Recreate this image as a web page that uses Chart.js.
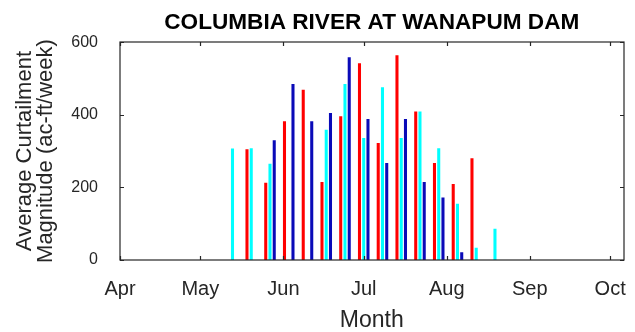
<!DOCTYPE html>
<html>
<head>
<meta charset="utf-8">
<title>Columbia River at Wanapum Dam</title>
<script src="https://cdn.jsdelivr.net/npm/chart.js@4.4.0/dist/chart.umd.min.js"></script>
<style>
  html, body { margin: 0; padding: 0; background: #fff; }
  canvas { display: block; }
</style>
</head>
<body>
<canvas id="curtailChart" width="635" height="332"></canvas>
<script>
// week start dates (MM-DD) for the curtailment season
const weekStarts = ['05-13', '05-20', '05-27', '06-03', '06-10', '06-17', '06-24', '07-01',
                    '07-08', '07-15', '07-22', '07-29', '08-05', '08-12', '08-19'];

// average curtailment per week (ac-ft/week)
const redValues  = [0, 305, 213, 382, 469, 215, 396, 542, 322, 564, 409, 267, 209, 280, 0];
const cyanValues = [307, 308, 265, 0, 0, 359, 485, 336, 476, 336, 409, 308, 155, 34, 86];
const blueValues = [0, 0, 330, 485, 382, 405, 558, 388, 267, 388, 215, 172, 21, 0, 0];

// month ticks, as days after April 1
const monthDays   = [0, 30, 61, 91, 122, 153, 183];
const monthLabels = ['Apr', 'May', 'Jun', 'Jul', 'Aug', 'Sep', 'Oct'];
const yTicks = [0, 200, 400, 600];

function dayOfSeason(md) {
    const [m, d] = md.split('-').map(Number);
    return (Date.UTC(2001, m - 1, d) - Date.UTC(2001, 3, 1)) / 86400000;
}

const weekDays = weekStarts.map(dayOfSeason);
const toPoints = vals => vals.map((v, i) => ({ x: weekDays[i], y: v }));

const fontFamily = "'Liberation Sans', Arial, Helvetica, sans-serif";
const axisColor = '#262626';

// box around the plot with MATLAB-style inward ticks
const frame = {
    id: 'frame',
    afterDatasetsDraw(chart) {
        const { ctx, chartArea: a, scales: { x, y } } = chart;
        const L = Math.round(a.left), R = Math.round(a.right);
        const T = Math.round(a.top), B = Math.round(a.bottom);
        ctx.save();
        ctx.strokeStyle = axisColor;
        ctx.lineWidth = 1.2;
        ctx.strokeRect(L, T, R - L, B - T);
        ctx.beginPath();
        x.ticks.forEach(t => {
            const px = Math.round(x.getPixelForValue(t.value)) + 0.5;
            ctx.moveTo(px, B); ctx.lineTo(px, B - 4);
            ctx.moveTo(px, T); ctx.lineTo(px, T + 4);
        });
        y.ticks.forEach(t => {
            const py = Math.round(y.getPixelForValue(t.value)) + 0.5;
            ctx.moveTo(L, py); ctx.lineTo(L + 4, py);
            ctx.moveTo(R, py); ctx.lineTo(R - 4, py);
        });
        ctx.stroke();
        ctx.restore();
    }
};

const ctx = document.getElementById('curtailChart').getContext('2d');
new Chart(ctx, {
    type: 'bar',
    data: {
        datasets: [
            { label: 'red', data: toPoints(redValues), backgroundColor: '#ff0000' },
            { label: 'cyan', data: toPoints(cyanValues), backgroundColor: '#00ffff' },
            { label: 'blue', data: toPoints(blueValues), backgroundColor: '#0a0ab8' }
        ]
    },
    options: {
        responsive: false,
        animation: false,
        devicePixelRatio: 1,
        categoryPercentage: 0.68,
        barPercentage: 0.72,
        layout: { padding: { left: 0, right: 5, top: 0, bottom: 0 } },
        plugins: {
            legend: { display: false },
            tooltip: { enabled: false },
            title: {
                display: true,
                fullSize: false,
                text: 'COLUMBIA RIVER AT WANAPUM DAM',
                color: '#000',
                font: { family: fontFamily, size: 22.6, weight: 'bold' },
                padding: { top: 9, bottom: 6 }
            }
        },
        scales: {
            x: {
                type: 'linear',
                min: 0,
                max: 188,
                offset: false,
                grid: { display: false },
                border: { display: false },
                afterBuildTicks: scale => {
                    scale.ticks = monthDays.map(v => ({ value: v }));
                },
                afterFit: scale => { scale.height = 72; },
                ticks: {
                    autoSkip: false,
                    maxRotation: 0,
                    padding: 9,
                    color: axisColor,
                    font: { family: fontFamily, size: 20 },
                    callback: value => monthLabels[monthDays.indexOf(value)]
                },
                title: {
                    display: true,
                    text: 'Month',
                    color: axisColor,
                    font: { family: fontFamily, size: 23, lineHeight: 1 },
                    padding: { top: 0, bottom: 0 }
                }
            },
            y: {
                min: 0,
                max: 600,
                grid: { display: false },
                border: { display: false },
                afterBuildTicks: scale => {
                    scale.ticks = yTicks.map(v => ({ value: v }));
                },
                afterFit: scale => { scale.width = 120; },
                ticks: {
                    padding: 14,
                    color: axisColor,
                    font: { family: fontFamily, size: 16 }
                },
                title: {
                    display: true,
                    text: ['Average Curtailment', 'Magnitude (ac-ft/week)'],
                    color: axisColor,
                    font: { family: fontFamily, size: 22, lineHeight: 0.94 },
                    padding: { top: 15, bottom: 0 }
                }
            }
        }
    },
    plugins: [frame]
});
</script>
</body>
</html>
